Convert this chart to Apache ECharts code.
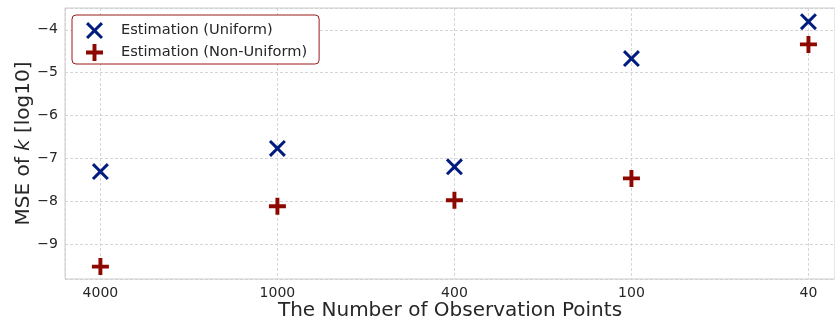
<!DOCTYPE html>
<html>
<head>
<meta charset="utf-8">
<script src="https://cdn.jsdelivr.net/npm/echarts@6/dist/echarts.min.js"></script>
<style>
  html, body { margin: 0; padding: 0; background: #ffffff; }
  #chart { width: 835px; height: 322px; }
</style>
</head>
<body>
<div id="chart"></div>
<script>
// Number of observation points (category labels, left to right)
const categories = ['4000', '1000', '400', '100', '40'];
// MSE of k, log10 scale
const uniformMSE = [-7.31, -6.77, -7.20, -4.67, -3.81];
const nonUniformMSE = [-9.53, -8.12, -7.98, -7.47, -4.34];

// Marker shapes: thick "x" and thick "+"
const xPath = 'path://M0,1.25L1.25,0L5,3.75L8.75,0L10,1.25L6.25,5L10,8.75L8.75,10L5,6.25L1.25,10L0,8.75L3.75,5Z';
const plusPath = 'path://M3.85,0H6.15V3.85H10V6.15H6.15V10H3.85V6.15H0V3.85H3.85Z';

const textColor = '#262626';
const gridColor = '#cccccc';
const font = 'DejaVu Sans';

const toPoints = vals => vals.map((v, i) => [i, v]);
const minusFmt = v => (v < 0 ? '\u2212' : '') + Math.abs(v);
const splitStyle = { show: true, lineStyle: { color: gridColor, width: 0.8, type: [3, 2] } };

const chart = echarts.init(document.getElementById('chart'), null, { renderer: 'canvas' });
chart.setOption({
  animation: false,
  backgroundColor: '#ffffff',
  textStyle: { fontFamily: font, color: textColor },
  grid: {
    left: 65, right: 0, top: 8, bottom: 43,
    outerBoundsMode: 'none',
    containLabel: false,
    show: true, borderColor: gridColor, borderWidth: 1, backgroundColor: '#ffffff'
  },
  legend: {
    left: 72, top: 15,
    orient: 'vertical',
    itemWidth: 17, itemHeight: 17, itemGap: 5,
    padding: [7, 12, 3, 14],
    borderColor: '#9b1b1b', borderWidth: 1, borderRadius: 4,
    backgroundColor: '#ffffff',
    textStyle: { fontFamily: font, fontSize: 14.6, color: textColor, padding: [0, 0, 0, 13] },
    data: ['Estimation (Uniform)', 'Estimation (Non-Uniform)']
  },
  xAxis: {
    type: 'value',
    min: -0.2, max: 4.15,
    minInterval: 1, maxInterval: 1,
    name: 'The Number of Observation Points',
    nameLocation: 'middle', nameGap: 22,
    nameMoveOverlap: false,
    nameTextStyle: { fontFamily: font, fontSize: 20, color: textColor },
    axisLine: { show: false },
    axisTick: { show: false },
    axisLabel: {
      showMinLabel: false, showMaxLabel: false,
      margin: 7, fontSize: 14, color: textColor, fontFamily: font,
      formatter: v => (Number.isInteger(v) && categories[v] !== undefined) ? categories[v] : ''
    },
    splitLine: splitStyle
  },
  yAxis: {
    type: 'value',
    min: -9.82, max: -3.49,
    minInterval: 1, maxInterval: 1,
    name: 'MSE of {i|k} [log10]',
    nameLocation: 'middle', nameGap: 31,
    nameMoveOverlap: false,
    nameTextStyle: {
      fontFamily: font, fontSize: 20, color: textColor,
      rich: { i: { fontFamily: font, fontSize: 20, fontStyle: 'italic', color: textColor } }
    },
    axisLine: { show: false },
    axisTick: { show: false },
    axisLabel: {
      showMinLabel: false, showMaxLabel: false,
      margin: 7, fontSize: 14, color: textColor, fontFamily: font,
      formatter: minusFmt
    },
    splitLine: splitStyle
  },
  series: [
    {
      name: 'Estimation (Uniform)',
      type: 'scatter',
      symbol: xPath, symbolSize: 17,
      itemStyle: { color: '#001c7f', opacity: 1 },
      data: toPoints(uniformMSE),
      z: 3
    },
    {
      name: 'Estimation (Non-Uniform)',
      type: 'scatter',
      symbol: plusPath, symbolSize: 17,
      itemStyle: { color: '#8c0800', opacity: 1 },
      data: toPoints(nonUniformMSE),
      z: 3
    }
  ]
});
</script>
</body>
</html>
